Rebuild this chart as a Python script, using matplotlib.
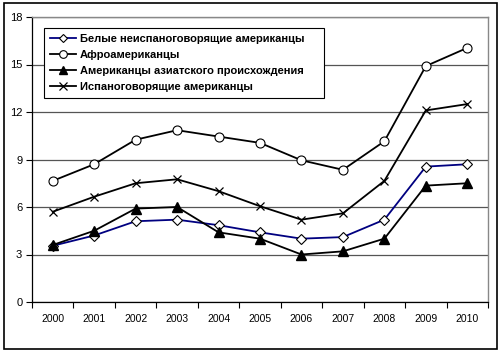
import matplotlib
matplotlib.use("Agg")
import matplotlib.pyplot as plt
from matplotlib.patches import Rectangle
import numpy as np

plt.rcParams['font.family'] = ['Liberation Sans', 'DejaVu Sans']

years = ['2000', '2001', '2002', '2003', '2004', '2005', '2006', '2007', '2008', '2009', '2010']
white = [3.55, 4.2, 5.1, 5.2, 4.85, 4.4, 4.0, 4.1, 5.2, 8.55, 8.7]
black = [7.65, 8.7, 10.25, 10.85, 10.45, 10.05, 8.95, 8.35, 10.15, 14.9, 16.05]
asian = [3.6, 4.5, 5.9, 6.0, 4.4, 4.0, 3.0, 3.2, 4.0, 7.35, 7.5]
hispanic = [5.7, 6.65, 7.5, 7.75, 7.0, 6.05, 5.2, 5.6, 7.65, 12.1, 12.5]
labels = ['Белые неиспаноговорящие американцы', 'Афроамериканцы',
          'Американцы азиатского происхождения', 'Испаноговорящие американцы']
yticks = [0, 3, 6, 9, 12, 15, 18]

fig = plt.figure(figsize=(5.0, 3.52), dpi=100)
fig.patches.append(Rectangle((4/500, 3/352), 493/500, 346/352, transform=fig.transFigure,
                             fill=False, edgecolor='black', linewidth=1.2))
ax = fig.add_axes([32/500, 50/352, 456/500, 285/352])

x = np.arange(len(years))
ax.plot(x, white, color='#000080', lw=1.3, marker='D', ms=5, mfc='white', mec='black', mew=0.8, label=labels[0])
ax.plot(x, black, color='black', lw=1.3, marker='o', ms=6.5, mfc='white', mec='black', mew=0.8, label=labels[1])
ax.plot(x, asian, color='black', lw=1.3, marker='^', ms=6.5, mfc='black', mec='black', label=labels[2])
ax.plot(x, hispanic, color='black', lw=1.3, marker='x', ms=6, mec='black', mew=0.9, label=labels[3])

ax.set_xlim(-0.5, len(years) - 0.5)
ax.set_ylim(0, 18)
ax.set_yticks(yticks)
ax.set_yticklabels([str(v) for v in yticks], fontsize=8)
ax.set_xticks(x)
ax.set_xticklabels(years, fontsize=7.5)
ax.tick_params(axis='x', length=0, pad=9)
ax.set_xticks(np.arange(-0.5, len(years), 1), minor=True)
ax.tick_params(axis='x', which='minor', length=4, direction='out', width=0.8)
ax.tick_params(axis='y', length=4, direction='out', width=0.8, pad=3)
ax.grid(axis='y', color='#555555', lw=0.9)
ax.set_axisbelow(True)
for s in ['top', 'right']:
    ax.spines[s].set_color('#888888')
    ax.spines[s].set_linewidth(1.0)
for s in ['left', 'bottom']:
    ax.spines[s].set_color('black')
    ax.spines[s].set_linewidth(0.9)

leg = ax.legend(loc='upper left', bbox_to_anchor=(12/456, 1 - 14/285, 280/456, 0.01),
                mode='expand', borderaxespad=0, fancybox=False,
                framealpha=1, edgecolor='black', handlelength=2.4, handletextpad=0.3,
                labelspacing=0.55, borderpad=0.5, markerscale=0.85,
                prop={'size': 8, 'weight': 'bold'})
leg.get_frame().set_linewidth(0.8)

fig.savefig('out.png', dpi=100)
